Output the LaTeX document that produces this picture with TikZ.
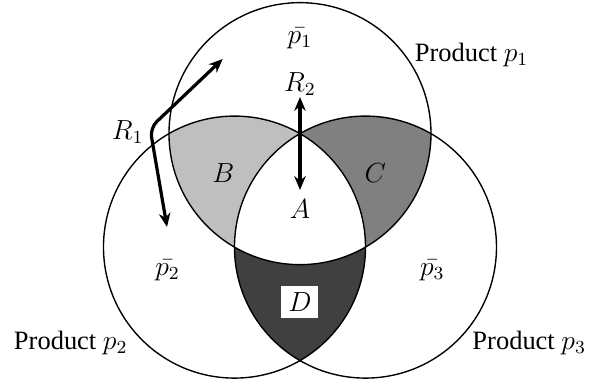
\documentclass[tikz,border=0pt]{standalone}
\usepackage{fontspec}
\setmainfont{Liberation Serif}
\usepackage{tikz}
\usetikzlibrary{arrows.meta}

\def\setone{(90:1.1547) circle (2cm)}
\def\settwo{(210:1.1547) circle (2cm)}
\def\setthree{(330:1.1547) circle (2cm)}

\begin{document}
\begin{tikzpicture}[every node/.style={font=\fontsize{11.5}{13}\selectfont}]
\useasboundingbox (-4.58,-2.667) rectangle (4.504,3.195);
% shaded pairwise overlaps
\begin{scope}
\clip \setone; \fill[black!25] \settwo;
\end{scope}
\begin{scope}
\clip \setone; \fill[black!50] \setthree;
\end{scope}
\begin{scope}
\clip \settwo; \fill[black!75] \setthree;
\end{scope}
\begin{scope}
\clip \setone; \clip \settwo; \fill[white] \setthree;
\end{scope}
\draw[line width=0.6pt] \setone \settwo \setthree;

\node (pbar1) at (0,2.61) {$\bar{p_1}$};
\node (pbar2) at (-2.02,-0.93) {$\bar{p_2}$};
\node (pbar3) at (2.02,-0.93) {$\bar{p_3}$};
\node (prod1) at (2.62,2.36) {Product $p_1$};
\node (prod2) at (-3.50,-2.04) {Product $p_2$};
\node (prod3) at (3.50,-2.04) {Product $p_3$};
\node (regA) at (0,0) {$A$};
\node (regB) at (-1.17,0.555) {$B$};
\node (regC) at (1.15,0.555) {$C$};
\node[fill=white, inner sep=3pt] (regD) at (0,-1.415) {$D$};
\node (labR1) at (-2.63,1.18) {$R_1$};
\node (labR2) at (0,1.91) {$R_2$};

\coordinate (r1low) at (-2.03,-0.27);
\coordinate (r1bend) at (-2.29,1.24);
\coordinate (r1high) at (-1.18,2.295);
\coordinate (r2high) at (0,1.714);
\coordinate (r2low) at (0,0.295);
\draw[{Stealth[length=6pt,width=5pt]}-{Stealth[length=6pt,width=5pt]}, line width=1.4pt, rounded corners=4pt] (r1low) -- (r1bend) -- (r1high);
\draw[{Stealth[length=6pt,width=5pt]}-{Stealth[length=6pt,width=5pt]}, line width=1.4pt] (r2high) -- (r2low);
\end{tikzpicture}
\end{document}
